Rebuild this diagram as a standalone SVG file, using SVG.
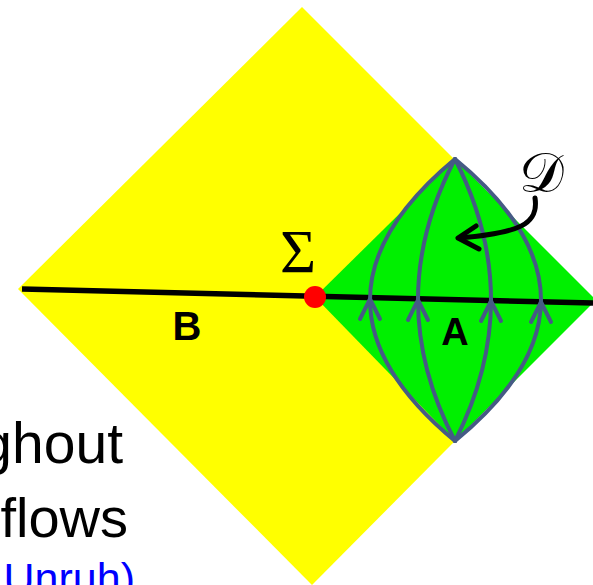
<svg xmlns="http://www.w3.org/2000/svg" xmlns:xlink="http://www.w3.org/1999/xlink" width="593" height="585" viewBox="0 0 593 585">
<style>
.flow{fill:none;stroke:#465a85;stroke-width:4;stroke-linecap:round;stroke-linejoin:round}
.lbl{font-family:"Liberation Sans",Arial,sans-serif;font-weight:bold;fill:#000;text-anchor:middle}
.body{font-family:"Liberation Sans",Arial,sans-serif;fill:#000;text-anchor:end}
</style>
<defs>
<path id="chev" d="M-10,20 L0,0 L10,20" class="flow"/>
</defs>
<rect width="593" height="585" fill="#fff"/>
<g id="region-yellow"><polygon points="302,7 595,300 312,585 18,289" fill="#ffff00"/></g>
<g id="region-green"><polygon points="455,159 596,300 455,441 315,297" fill="#00f000"/></g>
<g id="slice"><line x1="22" y1="289" x2="593" y2="303" stroke="#000" stroke-width="5.5"/></g>
<g id="connectors">
<path class="flow" d="M455,159 Q285,300 455,441"/>
<path class="flow" d="M455,159 Q381,300 455,441"/>
<path class="flow" d="M455,159 Q527,300 455,441"/>
<path class="flow" d="M455,159 Q627,300 455,441"/>
<use xlink:href="#chev" x="370" y="299"/>
<use xlink:href="#chev" x="418" y="300"/>
<use xlink:href="#chev" x="491" y="301"/>
<use xlink:href="#chev" x="541" y="302"/>
</g>
<g id="point-sigma"><circle cx="315" cy="297" r="11" fill="#ff0000"/>
<text x="298" y="272" font-family="Liberation Serif,'Times New Roman',serif" font-size="62" text-anchor="middle">Σ</text></g>
<g id="label-B"><text class="lbl" x="187" y="340" font-size="40">B</text></g>
<g id="label-A"><text class="lbl" x="455" y="345" font-size="38">A</text></g>
<g id="label-D">
<text x="541" y="192" font-family="'DejaVu Serif','Noto Sans',serif" font-size="56" text-anchor="middle">𝒟</text>
<path d="M535,198 C539,224 520,233 459,238" fill="none" stroke="#000" stroke-width="5" stroke-linecap="round"/>
<path d="M476,226 L458,238 L479,249" fill="none" stroke="#000" stroke-width="5" stroke-linecap="round" stroke-linejoin="round"/>
</g>
<g id="text-left">
<text class="body" x="123" y="463" font-size="57">ghout</text>
<text class="body" x="128" y="537" font-size="56">flows</text>
<text class="body" x="135" y="593" font-size="43" fill="#0000ff" style="fill:#0000ff">Unruh)</text>
</g>
</svg>
